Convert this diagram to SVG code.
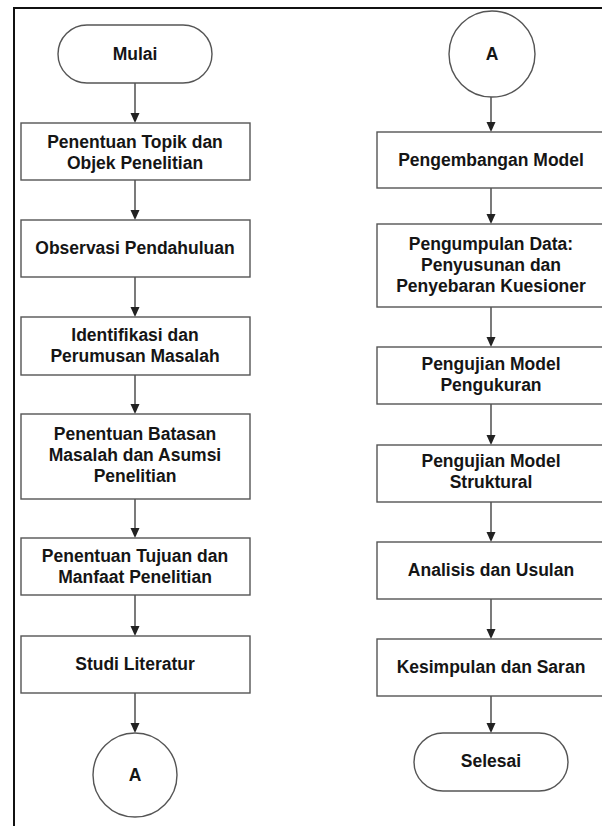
<svg xmlns="http://www.w3.org/2000/svg" width="602" height="826" viewBox="0 0 602 826">
<defs>
<style>
.box{fill:#fff;stroke:#555;stroke-width:1.4}
.t{font-family:"Liberation Sans",Arial,sans-serif;font-weight:bold;font-size:17.5px;fill:#151515;text-anchor:middle}
.c{stroke:#333;stroke-width:1.3;fill:none}
.h{fill:#222}
</style>
</defs>
<rect x="0" y="0" width="602" height="826" fill="#fff"/>
<g id="frame">
<path d="M14,826 L14,8 L602,8" fill="none" stroke="#111" stroke-width="2"/>
</g>
<g id="connectors">
<line class="c" x1="135" y1="83" x2="135" y2="114"/>
<line class="c" x1="135" y1="180" x2="135" y2="211"/>
<line class="c" x1="135" y1="277" x2="135" y2="308"/>
<line class="c" x1="135" y1="375" x2="135" y2="405"/>
<line class="c" x1="135" y1="499" x2="135" y2="529"/>
<line class="c" x1="135" y1="595" x2="135" y2="627"/>
<line class="c" x1="135" y1="693" x2="135" y2="724"/>
<line class="c" x1="491" y1="97" x2="491" y2="123"/>
<line class="c" x1="491" y1="188" x2="491" y2="215"/>
<line class="c" x1="491" y1="307" x2="491" y2="338"/>
<line class="c" x1="491" y1="404" x2="491" y2="436"/>
<line class="c" x1="491" y1="502" x2="491" y2="533"/>
<line class="c" x1="491" y1="599" x2="491" y2="630"/>
<line class="c" x1="491" y1="696" x2="491" y2="724"/>
<path class="h" d="M130.5,113 L139.5,113 L135,123 Z"/>
<path class="h" d="M130.5,210 L139.5,210 L135,220 Z"/>
<path class="h" d="M130.5,307 L139.5,307 L135,317 Z"/>
<path class="h" d="M130.5,404 L139.5,404 L135,414 Z"/>
<path class="h" d="M130.5,528 L139.5,528 L135,538 Z"/>
<path class="h" d="M130.5,626 L139.5,626 L135,636 Z"/>
<path class="h" d="M130.5,723 L139.5,723 L135,733 Z"/>
<path class="h" d="M486.5,122 L495.5,122 L491,132 Z"/>
<path class="h" d="M486.5,214 L495.5,214 L491,224 Z"/>
<path class="h" d="M486.5,337 L495.5,337 L491,347 Z"/>
<path class="h" d="M486.5,435 L495.5,435 L491,445 Z"/>
<path class="h" d="M486.5,532 L495.5,532 L491,542 Z"/>
<path class="h" d="M486.5,629 L495.5,629 L491,639 Z"/>
<path class="h" d="M486.5,723 L495.5,723 L491,733 Z"/>
</g>
<g id="mulai">
<rect class="box" x="58" y="25" width="154" height="58" rx="29" ry="29"/>
<text class="t" x="135" y="60">Mulai</text>
</g>
<g id="topik">
<rect class="box" x="21" y="123" width="229" height="57"/>
<text class="t" x="135" y="148">Penentuan Topik dan</text>
<text class="t" x="135" y="169">Objek Penelitian</text>
</g>
<g id="observasi">
<rect class="box" x="21" y="220" width="229" height="57"/>
<text class="t" x="135" y="254">Observasi Pendahuluan</text>
</g>
<g id="identifikasi">
<rect class="box" x="21" y="317" width="229" height="58"/>
<text class="t" x="135" y="341">Identifikasi dan</text>
<text class="t" x="135" y="362">Perumusan Masalah</text>
</g>
<g id="batasan">
<rect class="box" x="21" y="414" width="229" height="85"/>
<text class="t" x="135" y="440">Penentuan Batasan</text>
<text class="t" x="135" y="461">Masalah dan Asumsi</text>
<text class="t" x="135" y="482">Penelitian</text>
</g>
<g id="tujuan">
<rect class="box" x="21" y="538" width="229" height="57"/>
<text class="t" x="135" y="562">Penentuan Tujuan dan</text>
<text class="t" x="135" y="583">Manfaat Penelitian</text>
</g>
<g id="studi">
<rect class="box" x="21" y="636" width="229" height="57"/>
<text class="t" x="135" y="670">Studi Literatur</text>
</g>
<g id="a-left">
<circle class="box" cx="135" cy="775" r="42"/>
<text class="t" x="135" y="781">A</text>
</g>
<g id="a-right">
<circle class="box" cx="492" cy="54" r="43"/>
<text class="t" x="492" y="60">A</text>
</g>
<g id="pengembangan">
<rect class="box" x="377" y="132" width="229" height="56"/>
<text class="t" x="491" y="166">Pengembangan Model</text>
</g>
<g id="pengumpulan">
<rect class="box" x="377" y="224" width="229" height="83"/>
<text class="t" x="491" y="250">Pengumpulan Data:</text>
<text class="t" x="491" y="271">Penyusunan dan</text>
<text class="t" x="491" y="292">Penyebaran Kuesioner</text>
</g>
<g id="pengukuran">
<rect class="box" x="377" y="347" width="229" height="57"/>
<text class="t" x="491" y="370">Pengujian Model</text>
<text class="t" x="491" y="391">Pengukuran</text>
</g>
<g id="struktural">
<rect class="box" x="377" y="445" width="229" height="57"/>
<text class="t" x="491" y="467">Pengujian Model</text>
<text class="t" x="491" y="488">Struktural</text>
</g>
<g id="analisis">
<rect class="box" x="377" y="542" width="229" height="57"/>
<text class="t" x="491" y="576">Analisis dan Usulan</text>
</g>
<g id="kesimpulan">
<rect class="box" x="377" y="639" width="229" height="57"/>
<text class="t" x="491" y="673">Kesimpulan dan Saran</text>
</g>
<g id="selesai">
<rect class="box" x="414" y="733" width="154" height="58" rx="29" ry="29"/>
<text class="t" x="491" y="767">Selesai</text>
</g>
</svg>
